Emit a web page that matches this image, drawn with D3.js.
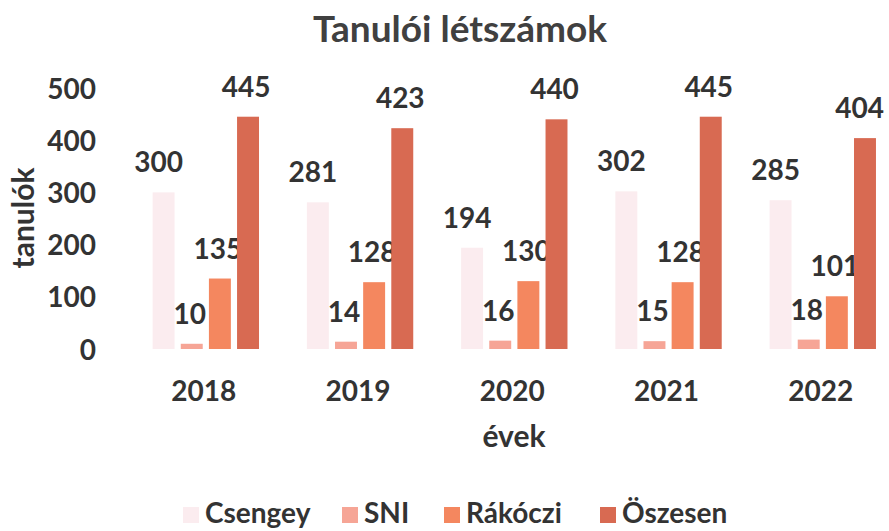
<!DOCTYPE html>
<html><head><meta charset="utf-8">
<script src="https://cdn.jsdelivr.net/npm/d3@7/dist/d3.min.js"></script>
<style>body{margin:0;background:#fff}text{font-family:Lato,"Open Sans",sans-serif;font-weight:700;fill:#333}</style>
</head><body><svg id="c" width="889" height="531"></svg>
<script>
const years = ["2018","2019","2020","2021","2022"];
const seriesNames = ["Csengey","SNI","Rákóczi","Öszesen"];
const csengey = [300,281,194,302,285];
const sni = [10,14,16,15,18];
const rakoczi = [135,128,130,128,101];
const osszesen = [445,423,440,445,404];
const yTicks = [0,100,200,300,400,500];
const colors = ["#fbecef","#f6a596","#f4875f","#d86a52"];
const seriesValues = [csengey,sni,rakoczi,osszesen];

const svg = d3.select("#c");
const x = d3.scaleBand().domain(years).range([128.7,899.9]).paddingInner(0).paddingOuter(0);
const xs = d3.scaleBand().domain(seriesNames).range([-56,56]).paddingInner(0.22).paddingOuter(0.1);
const y = d3.scaleLinear().domain([0,500]).range([349,88]);

svg.append("text").attr("x",460).attr("y",42).attr("text-anchor","middle").attr("font-size",37).style("fill","#404040").text("Tanulói létszámok");

const yAxis = svg.append("g").attr("transform","translate(96,0)").call(d3.axisLeft(y).tickValues(yTicks).tickSize(0).tickPadding(0));
yAxis.select(".domain").remove();
yAxis.selectAll("text").attr("font-size",28).attr("dy","0.36em").style("font-family","Lato").style("font-weight",700).style("fill","#333");

const xAxis = svg.append("g").attr("transform","translate(0,380)").call(d3.axisBottom(x).tickSize(0).tickPadding(0));
xAxis.select(".domain").remove();
xAxis.selectAll("text").attr("font-size",28).attr("dy","0.76em").attr("dx",-2).style("font-family","Lato").style("font-weight",700).style("fill","#333");

svg.append("text").attr("transform","translate(34,218) rotate(-90)").attr("text-anchor","middle").attr("font-size",30).text("tanulók");
svg.append("text").attr("x",514).attr("y",447).attr("text-anchor","middle").attr("font-size",30).text("évek");

seriesNames.forEach((s,i)=>{
  const g = svg.append("g");
  g.selectAll("rect").data(years).join("rect")
    .attr("x",d=>x(d)+x.bandwidth()/2+xs(s))
    .attr("width",xs.bandwidth())
    .attr("y",(d,j)=>y(seriesValues[i][j]))
    .attr("height",(d,j)=>y(0)-y(seriesValues[i][j]))
    .attr("fill",colors[i]);
  g.selectAll("text").data(years).join("text")
    .attr("y",(d,j)=>y(seriesValues[i][j])-20)
    .attr("text-anchor","middle").attr("font-size",28)
    .text((d,j)=>seriesValues[i][j])
    .attr("x",function(d){
      const cx = x(d)+x.bandwidth()/2+xs(s)+xs.bandwidth()/2 - (i===0?5:2);
      const w = this.getComputedTextLength();
      return Math.min(cx, 884 - w/2);
    });
});

const legX = [183,342,444,600];
const lg = svg.append("g");
seriesNames.forEach((s,i)=>{
  lg.append("rect").attr("x",legX[i]).attr("y",507).attr("width",16).attr("height",16).attr("fill",colors[i]);
  lg.append("text").attr("x",legX[i]+22).attr("y",523).attr("font-size",28).text(s);
});
</script></body></html>
